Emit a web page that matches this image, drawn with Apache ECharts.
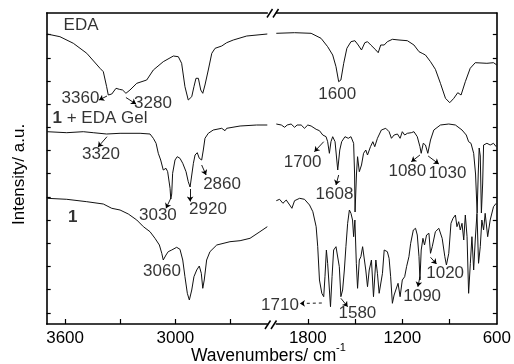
<!DOCTYPE html>
<html>
<head>
<meta charset="utf-8">
<script src="https://cdn.jsdelivr.net/npm/echarts@6/dist/echarts.min.js"></script>
<style>
  html, body { margin: 0; padding: 0; background: #fff; }
  #chart { width: 514px; height: 364px; }
</style>
</head>
<body>
<div id="chart"></div>
<script>
// wavenumber (cm-1), offset intensity (a.u.)
const edaLeft = [[3698,290],[3628,287.3],[3555,280.7],[3482,270.7],[3410,255.7],[3392,252.3],[3374,237.3],[3365,229],[3346,230],[3323,235.7],[3305,234.7],[3287,234],[3269,230.7],[3247,234],[3210,240.7],[3156,244],[3120,254],[3066,262.3],[3011,268],[2984,267.3],[2966,260.7],[2948,237.3],[2930,224],[2911,227.3],[2899,237.3],[2888,245.7],[2875,245.7],[2862,234],[2851,230.7],[2839,239],[2821,254],[2802,270.7],[2784,275.7],[2748,278],[2721,281.3],[2685,284],[2612,288],[2500,290]];
const edaRight = [[2000,290.7],[1884,291.3],[1779,290.7],[1716,285.7],[1674,277.3],[1642,269],[1621,257.3],[1604,242.3],[1590,244],[1572,260.7],[1552,275.7],[1526,282.3],[1501,283.3],[1480,279],[1459,274],[1438,281.3],[1421,282.3],[1400,279],[1368,274],[1353,271.3],[1337,279],[1315,279],[1295,282.3],[1263,284.7],[1221,284],[1168,283.3],[1126,279],[1094,272.3],[1074,270.7],[1053,269],[1021,262.3],[990,254.7],[958,240.7],[926,225.7],[899,221.3],[873,225.7],[848,231.3],[827,229],[800,242.3],[769,255.7],[737,261.3],[663,260.7],[621,261.3],[600,259]];

const gelLeft = [[3698,192.3],[3591,191.3],[3501,192.3],[3447,191.3],[3374,190],[3301,190.7],[3192,190.7],[3138,190],[3120,185.7],[3105,180.7],[3093,170.7],[3080,164],[3066,154],[3051,155.7],[3042,152.3],[3029,135.7],[3025,125],[3020,130],[3015,150.7],[3002,164],[2990,167.3],[2975,165.7],[2960,160.7],[2942,152.3],[2930,142.3],[2920,137],[2910,139],[2902,160.7],[2893,169],[2881,171.3],[2870,165.7],[2857,164],[2848,174],[2839,185.7],[2821,190.7],[2794,194],[2748,195.7],[2730,193.3],[2721,195.7],[2648,198],[2558,199],[2500,199]];
const gelRight = [[2000,200],[1968,199],[1947,196.7],[1931,199],[1906,200],[1884,196.7],[1868,199],[1842,199],[1821,195.7],[1800,199],[1779,198],[1747,194.7],[1726,193.3],[1705,189],[1684,187.3],[1674,182.3],[1663,170.7],[1653,182.3],[1642,187.3],[1627,182.3],[1610,154],[1597,174],[1585,182.3],[1564,187.3],[1543,185.7],[1526,187.3],[1509,180.7],[1503,150],[1500,112],[1495,112],[1491,150],[1484,167.3],[1473,152.3],[1459,159],[1446,170.7],[1432,174],[1421,169],[1402,177.3],[1387,182.3],[1375,177.3],[1358,185.7],[1333,194],[1305,195.7],[1284,192.3],[1269,185.7],[1252,189],[1231,190],[1214,185.7],[1200,192.3],[1185,189],[1168,190.7],[1143,191.3],[1126,192.3],[1105,187.3],[1088,177.3],[1080,170.7],[1067,180.7],[1053,179],[1038,170.7],[1021,184],[1000,194],[958,199],[905,200],[863,199],[821,194],[794,189],[779,182.3],[764,180.7],[747,170.7],[735,150],[725,111],[718,150],[712,176],[705,168],[698,111],[690,140],[684,179],[663,180.7],[642,179],[621,180.7],[604,177.3]];

const oneLeft = [[3698,125.7],[3591,124.7],[3482,122.3],[3392,120],[3346,115.7],[3301,114],[3256,110],[3210,104],[3174,97.3],[3138,92.3],[3111,85.7],[3087,79],[3074,70.7],[3066,64],[3051,69],[3039,72.3],[3020,74],[2993,76.7],[2975,74.7],[2960,64],[2948,47.3],[2935,30.7],[2924,24],[2911,34],[2899,47.3],[2884,54],[2870,58],[2859,50.7],[2851,35.7],[2843,44],[2830,64],[2812,72.3],[2775,79],[2703,82.3],[2648,83.3],[2594,85.7],[2540,92.3],[2500,97.3]];
const oneRight = [[2000,123.3],[1979,124.7],[1958,120.7],[1937,124],[1915,119],[1901,115.7],[1884,123.3],[1852,125.7],[1821,124.7],[1789,119],[1768,112.3],[1747,97.3],[1737,77.3],[1726,44],[1711,30.7],[1699,27.3],[1691,47.3],[1682,74],[1674,60.7],[1667,44],[1656,17.3],[1646,47.3],[1636,74],[1621,77.3],[1610,79],[1600,57.3],[1590,27.3],[1579,34],[1568,54],[1558,77.3],[1547,100.7],[1536,114],[1526,110.7],[1516,104],[1509,87.3],[1501,104],[1492,60.7],[1484,35.7],[1473,64],[1463,67.3],[1452,77.3],[1441,79],[1432,54],[1421,37.3],[1410,54],[1396,64],[1383,27.3],[1368,64],[1358,50.7],[1347,30.7],[1326,50.7],[1315,74],[1295,72.3],[1284,65.7],[1274,47.3],[1263,20.7],[1252,29],[1242,30.7],[1227,40.7],[1214,27.3],[1200,44],[1185,47.3],[1173,57.3],[1158,67.3],[1147,80.7],[1130,94],[1116,95.7],[1105,89],[1094,67.3],[1088,44],[1080,74],[1069,85.7],[1059,79],[1046,89],[1031,90.7],[1021,70.7],[1010,77.3],[990,92.3],[968,95.7],[947,85.7],[930,67.3],[920,59],[905,70.7],[891,100.7],[878,105.7],[863,109],[853,97.3],[842,102.3],[832,94],[821,100.7],[810,84],[800,109],[789,87.3],[779,30.7],[768,60.7],[758,87.3],[747,54],[737,84],[726,110.7],[716,60.7],[705,77.3],[695,104],[684,94],[674,110.7],[658,87.3],[642,104],[621,117.3],[604,120.7]];

// peak labels: [wavenumber, intensity, text]
const labelsLeft = [[3513,299,'EDA'],[3516,225.7,'3360'],[3122,221,'3280'],[3410,205.5,'{b|1} + EDA Gel'],[3405,170,'3320'],[3095,109,'3030'],[2823,115,'2920'],[2746,140,'2860'],[3073,53,'3060'],[3559,106.5,'{b|1}']];
const labelsRight = [[1613,230,'1600'],[1833,162,'1700'],[1631,130,'1608'],[1168,153,'1080'],[913,150.5,'1030'],[1977,18.5,'1710'],[1485,10.7,'1580'],[1074,28,'1090'],[928,51,'1020']];
const arrowsLeft = [[[3372,228],[3415,224]],[[3269,226.5],[3214,220]],[[3372,187.3],[3421,177]],[[3025,125.7],[3051,115.7]],[[2920,135],[2920,122.5]],[[2857,159],[2833,149]]];
const arrowsRight = [[[1699,182.3],[1758,172.3]],[[1604,149],[1621,139]],[[1088,169],[1143,162.3]],[[1036,168],[968,160]],[[1711,21],[1850,20.5]],[[1590,25.7],[1547,17.3]],[[1088,47.3],[1101,37.3]],[[1021,66.7],[983,60]]];

const xTicksLeft = [2700, 3000, 3300, 3600];
const xLabelsLeft = [3000, 3600];
const xTicksRight = [900, 1200, 1500, 1800];
const xLabelsRight = [600, 1200, 1800];
const yTicks = [11.2, 34.4, 57.6, 80.7, 103.9, 127.1, 150.3, 173.4, 196.6, 219.8, 243, 266.1, 289.3];

const font = 'Liberation Sans, Arial, sans-serif';
const black = '#000';

function bottomAxis(gi, min, max, ticks, labels) {
  return {
    type: 'value', gridIndex: gi, min: min, max: max, inverse: true, position: 'bottom',
    axisLine: { lineStyle: { color: black, width: 1.6 } },
    axisTick: { inside: true, length: 5, customValues: ticks, lineStyle: { color: black, width: 1.2 } },
    axisLabel: {
      customValues: labels, color: black, fontSize: 17, fontFamily: font, margin: 6,
      formatter: v => String(v)
    },
    splitLine: { show: false }
  };
}
function topAxis(gi, min, max) {
  return {
    type: 'value', gridIndex: gi, min: min, max: max, inverse: true, position: 'top',
    axisLine: { lineStyle: { color: black, width: 1.6 } },
    axisTick: { show: false }, axisLabel: { show: false }, splitLine: { show: false }
  };
}
function sideAxis(gi, pos) {
  return {
    type: 'value', gridIndex: gi, min: 0, max: 311, position: pos,
    axisLine: { show: true, lineStyle: { color: black, width: 1.6 } },
    axisTick: { show: true, inside: true, length: 4, customValues: yTicks, lineStyle: { color: black, width: 1.2 } },
    axisLabel: { show: false }, splitLine: { show: false }
  };
}
function spectrum(data, gi) {
  return {
    type: 'line', xAxisIndex: gi * 2, yAxisIndex: gi, data: data,
    showSymbol: false, symbol: 'none', lineStyle: { color: '#111', width: 1 }, z: 3
  };
}
function textLayer(data, gi) {
  return {
    type: 'scatter', xAxisIndex: gi * 2, yAxisIndex: gi, data: data,
    symbolSize: 1, itemStyle: { color: 'rgba(0,0,0,0)' }, clip: false, z: 5,
    label: {
      show: true, position: 'inside', color: black, fontSize: 17, fontFamily: font,
      formatter: p => p.data[2],
      rich: { b: { fontSize: 17, fontWeight: 'bold', fontFamily: font, color: black } }
    }
  };
}
function arrowLayer(data, gi) {
  return {
    type: 'lines', coordinateSystem: 'cartesian2d', xAxisIndex: gi * 2, yAxisIndex: gi,
    symbol: ['none', 'arrow'], symbolSize: 5, z: 4,
    lineStyle: { color: black, width: 0.9, opacity: 1 },
    data: data.map((c, i) => ({
      coords: c,
      lineStyle: (gi === 1 && i === 4) ? { type: [3, 3] } : undefined
    }))
  };
}

const chart = echarts.init(document.getElementById('chart'), null, { renderer: 'canvas' });
chart.setOption({
  animation: false,
  backgroundColor: '#fff',
  grid: [
    { left: 46.7, top: 13, width: 220.6, height: 311 },
    { left: 276.3, top: 13, width: 221.7, height: 311 }
  ],
  xAxis: [
    bottomAxis(0, 2500, 3700, xTicksLeft, xLabelsLeft),
    topAxis(0, 2500, 3700),
    bottomAxis(1, 600, 2000, xTicksRight, xLabelsRight),
    topAxis(1, 600, 2000)
  ],
  yAxis: [sideAxis(0, 'left'), sideAxis(1, 'right')],
  series: [
    spectrum(edaLeft, 0), spectrum(gelLeft, 0), spectrum(oneLeft, 0),
    spectrum(edaRight, 1), spectrum(gelRight, 1), spectrum(oneRight, 1),
    textLayer(labelsLeft, 0), textLayer(labelsRight, 1),
    arrowLayer(arrowsLeft, 0), arrowLayer(arrowsRight, 1)
  ],
  graphic: [
    { type: 'line', shape: { x1: 267, y1: 17.5, x2: 272.5, y2: 9 }, style: { stroke: black, lineWidth: 1.5 } },
    { type: 'line', shape: { x1: 273, y1: 17.5, x2: 278.5, y2: 9 }, style: { stroke: black, lineWidth: 1.5 } },
    { type: 'line', shape: { x1: 265, y1: 329, x2: 270.5, y2: 320.5 }, style: { stroke: black, lineWidth: 1.5 } },
    { type: 'line', shape: { x1: 271, y1: 329, x2: 276.5, y2: 320.5 }, style: { stroke: black, lineWidth: 1.5 } },
    { type: 'text', left: 191, top: 347, style: { text: 'Wavenumbers/ cm', fill: black, font: '17.5px ' + font } },
    { type: 'text', left: 336, top: 342, style: { text: '-1', fill: black, font: '11px ' + font } },
    { type: 'text', x: 11, y: 225, rotation: Math.PI / 2, style: { text: 'Intensity/ a.u.', fill: black, font: '17px ' + font } }
  ]
});
</script>
</body>
</html>
